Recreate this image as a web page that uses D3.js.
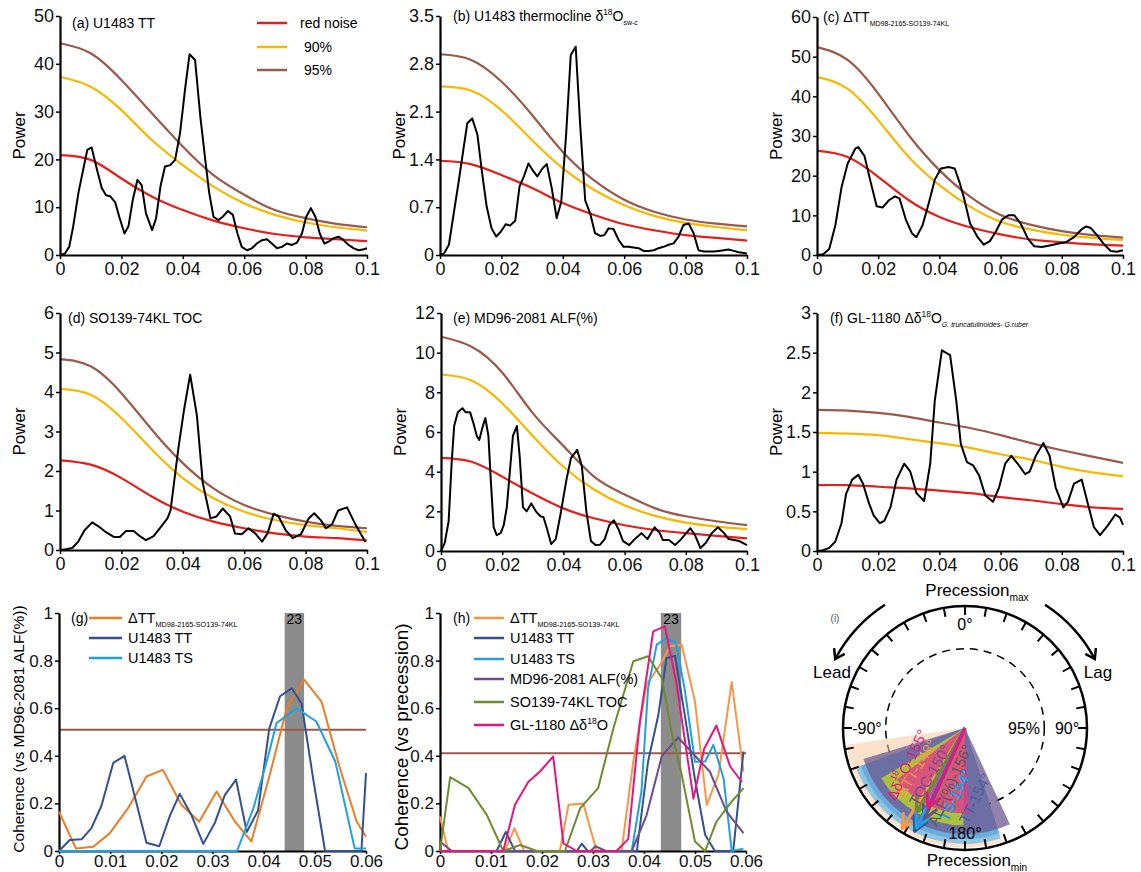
<!DOCTYPE html>
<html>
<head>
<meta charset="utf-8">
<script src="https://cdn.jsdelivr.net/npm/d3@7"></script>
<style>
  body { margin: 0; background: #fff; }
  svg { font-family: "Liberation Sans", Arial, sans-serif; }
</style>
</head>
<body>
<svg id="chart" width="1141" height="872"></svg>
<script>
// ---- data ----
const powerXTicks = [0, 0.02, 0.04, 0.06, 0.08, 0.1];
const cohXTicks = [0, 0.01, 0.02, 0.03, 0.04, 0.05, 0.06];
const cohYTicks = [0, 0.2, 0.4, 0.6, 0.8, 1];
const noiseFreq = [0, 0.01, 0.02, 0.03, 0.04, 0.05, 0.06, 0.07, 0.08, 0.09, 0.1];

// (a) U1483 TT
const specA = [[0,0],[0.0016,0.3],[0.003,1.7],[0.0043,6],[0.006,13],[0.0076,18],[0.0089,22],[0.0103,22.5],[0.012,18],[0.0136,14],[0.015,12.5],[0.0163,12.3],[0.018,11],[0.0193,8],[0.021,4.5],[0.0223,6],[0.0237,11.5],[0.0252,15.7],[0.0266,14.6],[0.028,8.7],[0.030,5.2],[0.0313,7.7],[0.0328,14.6],[0.0342,18.5],[0.0359,18.8],[0.0375,19.9],[0.0391,25.5],[0.0408,35],[0.0422,42],[0.044,40.8],[0.0457,29],[0.0473,20],[0.0486,13],[0.05,8],[0.0516,7.3],[0.053,8],[0.0547,9.2],[0.0563,8.4],[0.0578,4.5],[0.0592,1.7],[0.0609,1],[0.0625,1.4],[0.0641,2.4],[0.0658,3.1],[0.0674,3.3],[0.069,2.4],[0.0707,1.4],[0.0723,1.7],[0.0739,2.4],[0.0755,2.1],[0.0772,2.6],[0.0788,4.5],[0.0802,8],[0.0817,9.8],[0.0832,8],[0.0846,4.5],[0.0861,2.4],[0.0875,2.8],[0.0891,3.5],[0.0908,3.8],[0.0924,3.1],[0.094,2.1],[0.0957,1.4],[0.0973,1],[0.099,1.2],[0.1,1.4]];
const redA = [20.9,19.9,16.0,12.2,9.4,7.2,5.6,4.4,3.7,3.3,2.9];
const c90A = [37.3,35.2,30.3,24.0,18.8,14.3,10.8,8.4,6.8,5.8,5.1];
const c95A = [44.3,42.2,36.6,29.6,22.7,16.7,12.6,9.4,7.7,6.5,5.8];

// (b) U1483 thermocline d18Osw-c
const specB = [[0,0],[0.0013,0.02],[0.0029,0.15],[0.0043,0.56],[0.006,1.05],[0.0076,1.54],[0.0089,1.93],[0.0105,2.0],[0.0122,1.76],[0.0136,1.24],[0.0152,0.71],[0.0168,0.39],[0.0183,0.27],[0.0198,0.34],[0.0214,0.45],[0.0228,0.43],[0.0245,0.5],[0.0259,1.0],[0.0274,1.16],[0.0288,1.34],[0.0302,1.24],[0.0317,1.15],[0.0334,1.27],[0.0348,1.33],[0.0364,0.98],[0.038,0.54],[0.0395,0.78],[0.0411,1.78],[0.0426,2.93],[0.0442,3.05],[0.0457,1.88],[0.0473,0.8],[0.0489,0.61],[0.0505,0.32],[0.0522,0.28],[0.0535,0.29],[0.0549,0.39],[0.0565,0.38],[0.0582,0.22],[0.0598,0.12],[0.0614,0.12],[0.063,0.11],[0.0647,0.1],[0.0663,0.06],[0.0679,0.06],[0.0696,0.07],[0.0712,0.1],[0.0728,0.12],[0.0745,0.15],[0.0761,0.17],[0.0777,0.27],[0.0793,0.44],[0.081,0.46],[0.0826,0.32],[0.0842,0.07],[0.0859,0.05],[0.0875,0.05],[0.0891,0.05],[0.0908,0.06],[0.0924,0.07],[0.094,0.08],[0.0957,0.06],[0.0973,0.04],[0.099,0.03],[0.1,0.02]];
const redB = [1.38,1.33,1.17,0.98,0.76,0.59,0.45,0.36,0.29,0.25,0.21];
const c90B = [2.47,2.41,2.12,1.68,1.27,0.96,0.73,0.57,0.47,0.41,0.36];
const c95B = [2.94,2.86,2.54,2.05,1.51,1.10,0.81,0.63,0.52,0.46,0.42];

// (c) dTT MD98-2165 - SO139-74KL
const specC = [[0,0],[0.002,0.2],[0.004,1.5],[0.006,7.5],[0.008,17],[0.010,23],[0.0125,26.8],[0.0135,27.2],[0.0155,25],[0.0175,18.5],[0.0195,12.3],[0.0215,12],[0.0235,13.8],[0.0255,14.8],[0.027,14.2],[0.029,9],[0.031,5.5],[0.0325,4.5],[0.0345,7.5],[0.0365,13],[0.0385,19],[0.0405,21.8],[0.043,22.2],[0.045,21.8],[0.0465,18.5],[0.048,14.5],[0.050,8],[0.0525,4.5],[0.0545,2.6],[0.0565,3.5],[0.0585,6],[0.0605,9],[0.0625,10],[0.0645,10],[0.0665,8],[0.069,4],[0.071,2.2],[0.0735,2],[0.076,2.4],[0.079,2.9],[0.0815,3.3],[0.084,4.5],[0.0865,6.5],[0.088,7.2],[0.0895,6.8],[0.0915,5],[0.094,2.5],[0.096,1],[0.098,0.8],[0.1,1.2]];
const redC = [26.3,24.7,19.7,13.8,9.6,7.0,5.2,3.9,3.2,2.7,2.35];
const c90C = [44.9,41.9,34.0,24.7,17.6,12.2,8.4,6.4,5.1,4.3,3.8];
const c95C = [52.4,49.2,40.7,30.2,21.4,14.7,10.1,7.6,6.0,5.0,4.4];

// (d) SO139-74KL TOC
const specD = [[0,0],[0.002,0.02],[0.004,0.05],[0.006,0.22],[0.008,0.5],[0.0105,0.7],[0.0125,0.6],[0.015,0.45],[0.0175,0.33],[0.0195,0.33],[0.0215,0.48],[0.024,0.48],[0.026,0.35],[0.028,0.25],[0.0305,0.35],[0.033,0.6],[0.035,0.8],[0.036,1.0],[0.0386,2.6],[0.0404,3.55],[0.0424,4.44],[0.0446,3.4],[0.0465,1.7],[0.049,0.8],[0.051,0.85],[0.053,1.05],[0.0554,0.85],[0.057,0.42],[0.0592,0.4],[0.0614,0.55],[0.0636,0.42],[0.0658,0.21],[0.0676,0.42],[0.0696,0.92],[0.0712,0.85],[0.0735,0.5],[0.0758,0.3],[0.0785,0.4],[0.081,0.8],[0.0828,0.93],[0.085,0.75],[0.0866,0.55],[0.0886,0.65],[0.0906,1.0],[0.0935,1.08],[0.0962,0.65],[0.0995,0.2]];
const redD = [2.27,2.16,1.82,1.35,0.97,0.72,0.55,0.42,0.34,0.30,0.24];
const c90D = [4.08,3.93,3.34,2.54,1.82,1.31,0.97,0.76,0.63,0.55,0.46];
const c95D = [4.83,4.65,3.97,3.04,2.20,1.56,1.14,0.89,0.72,0.61,0.55];

// (e) MD96-2081 ALF(%)
const specE = [[0,0],[0.0012,0.4],[0.0025,1.5],[0.0035,4.5],[0.0043,6.3],[0.0055,7.0],[0.007,7.2],[0.008,7.0],[0.0095,7.0],[0.0105,6.5],[0.0117,5.8],[0.0125,5.6],[0.0135,6.2],[0.0145,6.7],[0.0155,5.8],[0.0163,3.5],[0.0172,1.2],[0.0182,0.8],[0.0195,0.9],[0.0205,1.3],[0.0215,2.2],[0.0225,4.0],[0.0235,5.8],[0.0248,6.3],[0.0257,4.8],[0.0268,2.2],[0.028,2.0],[0.0295,2.4],[0.031,2.0],[0.0325,1.75],[0.0335,1.7],[0.0345,1.2],[0.036,0.35],[0.0375,0.6],[0.039,1.8],[0.041,3.6],[0.0425,4.7],[0.0445,5.1],[0.046,4.3],[0.0475,2.0],[0.049,0.5],[0.0505,0.3],[0.052,0.32],[0.0535,0.6],[0.055,1.3],[0.0565,1.55],[0.058,1.1],[0.0595,0.5],[0.0615,0.3],[0.063,0.55],[0.0655,0.9],[0.0675,0.6],[0.0698,1.2],[0.0715,0.9],[0.0725,0.55],[0.0745,0.55],[0.0765,0.3],[0.0785,0.6],[0.0815,1.15],[0.083,0.8],[0.0848,0.15],[0.0865,0.4],[0.0885,0.9],[0.0905,1.2],[0.0925,0.9],[0.094,0.6],[0.0975,0.5],[0.1,0.3]];
const redE = [4.7,4.5,3.75,2.9,2.15,1.65,1.3,1.06,0.9,0.76,0.64];
const c90E = [8.9,8.6,7.45,5.8,4.25,3.1,2.3,1.77,1.43,1.23,1.1];
const c95E = [10.8,10.3,9.0,6.95,5.3,3.75,2.85,2.15,1.75,1.5,1.3];

// (f) GL-1180 dd18O
const specF = [[0,0],[0.002,0.01],[0.004,0.04],[0.006,0.12],[0.008,0.35],[0.0095,0.72],[0.0115,0.9],[0.0135,0.96],[0.015,0.85],[0.017,0.6],[0.0185,0.45],[0.0205,0.35],[0.022,0.38],[0.024,0.55],[0.026,0.9],[0.0285,1.1],[0.0305,1.0],[0.0325,0.73],[0.035,0.63],[0.037,1.1],[0.0385,1.9],[0.0408,2.53],[0.0435,2.47],[0.0455,1.9],[0.047,1.35],[0.049,1.12],[0.051,1.08],[0.053,0.95],[0.055,0.7],[0.0575,0.62],[0.0595,0.8],[0.0615,1.1],[0.0635,1.2],[0.066,1.08],[0.068,0.97],[0.0695,1.0],[0.0715,1.2],[0.074,1.36],[0.076,1.2],[0.078,0.8],[0.0805,0.55],[0.082,0.62],[0.084,0.85],[0.0865,0.9],[0.0885,0.6],[0.0905,0.3],[0.0925,0.2],[0.095,0.32],[0.0975,0.46],[0.099,0.42],[0.1,0.33]];
const redF = [0.83,0.83,0.81,0.79,0.76,0.73,0.68,0.64,0.59,0.55,0.53];
const c90F = [1.49,1.48,1.46,1.41,1.36,1.30,1.22,1.15,1.06,0.99,0.94];
const c95F = [1.78,1.77,1.74,1.69,1.62,1.55,1.46,1.36,1.27,1.19,1.11];

// (g) coherence vs MD96-2081 ALF(%)
const cohG_dTT = [[0,0.165],[0.0033,0.011],[0.0067,0.018],[0.0099,0.074],[0.0135,0.18],[0.0171,0.313],[0.0203,0.341],[0.0239,0.194],[0.0274,0.123],[0.0308,0.25],[0.0344,0.123],[0.0376,0.04],[0.0412,0.32],[0.0445,0.6],[0.0479,0.72],[0.0513,0.628],[0.0549,0.348],[0.0582,0.123],[0.06,0.06]];
const cohG_TT = [[0,0],[0.0021,0.046],[0.0044,0.049],[0.0063,0.095],[0.0083,0.19],[0.0106,0.37],[0.0128,0.4],[0.0171,0.035],[0.0196,0.02],[0.0217,0.15],[0.0236,0.24],[0.0259,0.15],[0.0282,0.03],[0.0305,0.12],[0.0324,0.235],[0.0346,0.3],[0.0367,0.08],[0.0389,0.17],[0.0411,0.515],[0.0432,0.65],[0.0455,0.684],[0.0474,0.62],[0.0497,0.3],[0.052,0],[0.0591,0],[0.06,0.327]];
const cohG_TS = [[0,0],[0.0348,0],[0.038,0.18],[0.0409,0.4],[0.0425,0.537],[0.0464,0.6],[0.0503,0.544],[0.054,0.376],[0.0578,0.01],[0.06,0.01]];
const bandG = [0.0441, 0.0479];
const sigG = 0.509;

// (h) coherence vs precession
const cohH_dTT = [[0,0.145],[0.0016,0],[0.0127,0],[0.0146,0.095],[0.0165,0],[0.0235,0],[0.0252,0.194],[0.0281,0.2],[0.0307,0],[0.0356,0],[0.0379,0.376],[0.0405,0.7],[0.0431,0.78],[0.0451,0.86],[0.0474,0.867],[0.05,0.628],[0.0523,0.194],[0.0546,0.32],[0.0572,0.71],[0.0595,0.334]];
const cohH_TT = [[0,0],[0.0111,0],[0.0129,0.08],[0.0147,0],[0.0268,0],[0.0278,0.03],[0.029,0],[0.0386,0],[0.0408,0.376],[0.0428,0.57],[0.0444,0.81],[0.0461,0.82],[0.048,0.57],[0.05,0.3],[0.052,0.067],[0.0539,0],[0.0575,0],[0.0595,0.418]];
const cohH_TS = [[0,0],[0.0376,0],[0.0395,0.25],[0.0408,0.684],[0.0425,0.867],[0.0444,0.895],[0.0463,0.874],[0.048,0.677],[0.05,0.375],[0.052,0.376],[0.0536,0.446],[0.0556,0.306],[0.0572,0],[0.0595,0.01]];
const cohH_ALF = [[0,0.04],[0.0023,0],[0.0295,0],[0.0305,0.02],[0.0325,0],[0.0376,0],[0.0405,0.15],[0.0435,0.4],[0.0467,0.477],[0.05,0.4],[0.0529,0.334],[0.0562,0.165],[0.0595,0.075]];
const cohH_TOC = [[0,0],[0.002,0.31],[0.0056,0.264],[0.0092,0.151],[0.0124,0],[0.0157,0.025],[0.019,0],[0.0245,0],[0.0275,0.18],[0.031,0.264],[0.034,0.516],[0.0379,0.797],[0.0408,0.818],[0.0435,0.726],[0.0454,0.5],[0.0474,0.32],[0.05,0.04],[0.052,0],[0.0542,0.123],[0.0569,0.2],[0.0595,0.264]];
const cohH_GL = [[0,0],[0.0124,0],[0.0147,0.194],[0.0173,0.29],[0.0196,0.334],[0.0222,0.397],[0.0242,0.032],[0.0268,0],[0.0346,0],[0.0369,0.05],[0.0392,0.545],[0.0418,0.923],[0.0441,0.944],[0.0464,0.7],[0.0497,0.22],[0.0518,0.43],[0.0542,0.527],[0.0569,0.355],[0.0592,0.29]];
const bandH = [0.0433, 0.0473];
const sigH = 0.411;

// (i) phase wheel, order: dTT, TT, TS, ALF, TOC, dd18O
const phaseNames = ['ΔTT', 'TT', 'TS', 'ALF(%)', 'TOC', 'Δδ18O'];
const phaseDeg = [-148, -154, -154, -156, -150, -155];
const phaseErr = [50, 44, 44, 49, 29, 28];
const phaseWedge = [0.98, 0.95, 0.91, 0.87, 0.8, 0.7];   // relative radius
const phaseArrow = [0.97, 0.94, 0.91, 0.82, 0.8, 0.72];
const sig95 = 0.65;

// ---- styles ----
const RED = '#e3201b', GOLD = '#f7b800', BROWN = '#9a5a4b';
const C_ORG_G = '#ec7d22', C_ORG = '#f79646', C_TT = '#33508f', C_TS = '#1fa0e0',
      C_ALF = '#6b4d8c', C_TOC = '#6f8a30', C_GL = '#e5177e';
const fmt = d3.format('~g');

const svg = d3.select('#chart');

function rich(text, segs, size) {
  let off = 0;
  segs.forEach(s => {
    const target = s.sup ? -0.42 * size : s.sub ? 0.28 * size : 0;
    const ts = text.append('tspan').text(s.t).attr('dy', target - off);
    if (s.sup || s.sub) ts.attr('font-size', (s.fs || 0.6) * size);
    if (s.italic) ts.attr('font-style', 'italic');
    off = target;
  });
}

function styleAxis(ax, fs) {
  ax.select('.domain').attr('stroke-width', 2.2);
  ax.selectAll('.tick line').attr('stroke-width', 1.5);
  ax.selectAll('.tick text').attr('font-size', fs).attr('fill', '#111');
  ax.attr('font-family', null);
}

function drawPower(p) {
  const g = svg.append('g').attr('transform', `translate(${p.left},${p.top})`);
  const x = d3.scaleLinear([0, 0.1], [0, p.w]);
  const y = d3.scaleLinear([0, p.yMax], [p.h, 0]);
  const smooth = d3.line().x((d, i) => x(noiseFreq[i])).y(d => y(d)).curve(d3.curveNatural);
  const raw = d3.line().x(d => x(d[0])).y(d => y(d[1]));

  [[p.red, RED], [p.c90, GOLD], [p.c95, BROWN]].forEach(([arr, col]) => {
    g.append('path').attr('d', smooth(arr)).attr('fill', 'none')
      .attr('stroke', col).attr('stroke-width', 2.2);
  });
  g.append('path').attr('d', raw(p.spec)).attr('fill', 'none')
    .attr('stroke', '#000').attr('stroke-width', 2).attr('stroke-linejoin', 'round');

  const ax = g.append('g').attr('transform', `translate(0,${p.h})`)
    .call(d3.axisBottom(x).tickValues(powerXTicks).tickFormat(fmt).tickSizeInner(4).tickSizeOuter(0).tickPadding(3));
  styleAxis(ax, 18);
  const ay = g.append('g')
    .call(d3.axisLeft(y).tickValues(p.yTicks).tickFormat(fmt).tickSizeInner(4).tickSizeOuter(0).tickPadding(2));
  styleAxis(ay, 18);

  g.append('text').attr('transform', `translate(-41,${p.h / 2}) rotate(-90)`)
    .attr('text-anchor', 'middle').attr('dominant-baseline', 'central')
    .attr('font-size', 17).text('Power');

  const t = g.append('text').attr('x', p.tx).attr('y', p.ty).attr('font-size', 14);
  rich(t, p.title, 14);
}

const powerPanels = [
  { left: 60, top: 16, w: 307, h: 239, yMax: 50, yTicks: [0,10,20,30,40,50], spec: specA, red: redA, c90: c90A, c95: c95A,
    tx: 12, ty: 12, title: [{ t: '(a) U1483 TT' }] },
  { left: 440, top: 16, w: 307, h: 239, yMax: 3.5, yTicks: [0,0.7,1.4,2.1,2.8,3.5], spec: specB, red: redB, c90: c90B, c95: c95B,
    tx: 13, ty: 5, title: [{ t: '(b) U1483 thermocline δ' }, { t: '18', sup: true }, { t: 'O' }, { t: 'sw-c', sub: true, fs: 0.5 }] },
  { left: 817, top: 17, w: 306, h: 238, yMax: 60, yTicks: [0,10,20,30,40,50,60], spec: specC, red: redC, c90: c90C, c95: c95C,
    tx: 6, ty: 5, title: [{ t: '(c) ΔTT' }, { t: 'MD98-2165-SO139-74KL', sub: true, fs: 0.5 }] },
  { left: 60, top: 313, w: 307, h: 237, yMax: 6, yTicks: [0,1,2,3,4,5,6], spec: specD, red: redD, c90: c90D, c95: c95D,
    tx: 8, ty: 10, title: [{ t: '(d) SO139-74KL TOC' }] },
  { left: 441, top: 313, w: 306, h: 238, yMax: 12, yTicks: [0,2,4,6,8,10,12], spec: specE, red: redE, c90: c90E, c95: c95E,
    tx: 12, ty: 10, title: [{ t: '(e) MD96-2081 ALF(%)' }] },
  { left: 817, top: 313, w: 306, h: 238, yMax: 3, yTicks: [0,0.5,1,1.5,2,2.5,3], spec: specF, red: redF, c90: c90F, c95: c95F,
    tx: 13, ty: 10, title: [{ t: '(f) GL-1180 Δδ' }, { t: '18', sup: true }, { t: 'O' }, { t: 'G. truncatulinoides- G.ruber', sub: true, fs: 0.5, italic: true }] }
];
powerPanels.forEach(drawPower);

// legend of panel (a)
const legA = svg.append('g');
[['red noise', RED, 23], [' 90%', GOLD, 47], [' 95%', BROWN, 70]].forEach(([lab, col, yy]) => {
  legA.append('line').attr('x1', 257).attr('x2', 287).attr('y1', yy).attr('y2', yy)
    .attr('stroke', col).attr('stroke-width', 2.5);
  legA.append('text').attr('x', 300).attr('y', yy + 5).attr('font-size', 14).attr('xml:space', 'preserve').text(lab);
});

// ---- coherence panels ----
function drawCoh(p) {
  const g = svg.append('g').attr('transform', `translate(${p.left},${p.top})`);
  const x = d3.scaleLinear([0, 0.06], [0, p.w]);
  const y = d3.scaleLinear([0, 1], [p.h, 0]);
  const raw = d3.line().x(d => x(d[0])).y(d => y(d[1]));

  g.append('rect').attr('x', x(p.band[0])).attr('width', x(p.band[1]) - x(p.band[0]))
    .attr('y', y(1)).attr('height', y(0) - y(1)).attr('fill', '#8c8c8c');
  g.append('text').attr('x', x((p.band[0] + p.band[1]) / 2)).attr('y', y(1) + 11)
    .attr('text-anchor', 'middle').attr('font-size', 14).text('23');

  g.append('line').attr('x1', 0).attr('x2', p.w).attr('y1', y(p.sig)).attr('y2', y(p.sig))
    .attr('stroke', BROWN).attr('stroke-width', 2);

  const ax = g.append('g').attr('transform', `translate(0,${p.h})`)
    .call(d3.axisBottom(x).tickValues(cohXTicks).tickFormat(fmt).tickSizeInner(3).tickSizeOuter(0).tickPadding(1));
  styleAxis(ax, 17);
  const ay = g.append('g')
    .call(d3.axisLeft(y).tickValues(cohYTicks).tickFormat(fmt).tickSizeInner(4).tickSizeOuter(0).tickPadding(2));
  styleAxis(ay, 17);

  p.series.forEach(s => {
    g.append('path').attr('d', raw(s.data)).attr('fill', 'none')
      .attr('stroke', s.color).attr('stroke-width', 2).attr('stroke-linejoin', 'round');
  });

  g.append('text').attr('transform', `translate(${p.ylx},${p.yly}) rotate(-90)`)
    .attr('text-anchor', 'middle').attr('dominant-baseline', 'central')
    .attr('font-size', p.ylfs).text(p.ylabel);

  // legend
  g.append('text').attr('x', p.legTag[0]).attr('y', p.legRows[0] + 5).attr('font-size', 14).text(p.tag);
  p.series.forEach((s, i) => {
    const yy = p.legRows[i];
    g.append('line').attr('x1', p.legLine[0]).attr('x2', p.legLine[1]).attr('y1', yy).attr('y2', yy)
      .attr('stroke', s.color).attr('stroke-width', 2.5);
    const t = g.append('text').attr('x', p.legLine[1] + 6).attr('y', yy + 5).attr('font-size', 14.5);
    rich(t, s.label, 14.5);
  });
}

const labDTT = [{ t: 'ΔTT' }, { t: 'MD98-2165-SO139-74KL', sub: true, fs: 0.5 }];
drawCoh({
  left: 59, top: 613, w: 307, h: 238, band: bandG, sig: sigG, tag: '(g)',
  ylabel: 'Coherence (vs MD96-2081 ALF(%))', ylx: -41, yly: 116, ylfs: 15.5,
  legTag: [12], legLine: [30, 63], legRows: [5, 25, 45],
  series: [
    { data: cohG_dTT, color: C_ORG_G, label: labDTT },
    { data: cohG_TT, color: C_TT, label: [{ t: 'U1483 TT' }] },
    { data: cohG_TS, color: C_TS, label: [{ t: 'U1483 TS' }] }
  ]
});
drawCoh({
  left: 440, top: 613, w: 306, h: 238, band: bandH, sig: sigH, tag: '(h)',
  ylabel: 'Coherence (vs precession)', ylx: -39, yly: 124, ylfs: 19,
  legTag: [13], legLine: [34, 64], legRows: [5, 25, 46, 66, 89, 112],
  series: [
    { data: cohH_dTT, color: C_ORG, label: labDTT },
    { data: cohH_TT, color: C_TT, label: [{ t: 'U1483 TT' }] },
    { data: cohH_TS, color: C_TS, label: [{ t: 'U1483 TS' }] },
    { data: cohH_ALF, color: C_ALF, label: [{ t: 'MD96-2081 ALF(%)' }] },
    { data: cohH_TOC, color: C_TOC, label: [{ t: 'SO139-74KL TOC' }] },
    { data: cohH_GL, color: C_GL, label: [{ t: 'GL-1180 Δδ' }, { t: '18', sup: true }, { t: 'O' }] }
  ]
});

// ---- (i) phase wheel ----
const cx = 965, cy = 728, R = 122;
const rs = d3.scaleLinear([0, 1], [0, R]);
const rad = d => d * Math.PI / 180;
const polar = (deg, r) => [Math.sin(rad(deg)) * r, -Math.cos(rad(deg)) * r];
const wheel = svg.append('g').attr('transform', `translate(${cx},${cy})`);

const wedgeFill = ['#f9c9a0', '#5fb9ea', '#4466aa', '#6d5a92', '#b9cf2c', '#e03a8a'];
const wedgeOp = [0.55, 0.7, 0.65, 0.75, 0.85, 0.8];
const wedgeOrder = [0, 2, 1, 3, 4, 5];
const arcGen = d3.arc().innerRadius(0);

wheel.append('circle').attr('r', rs(sig95)).attr('fill', 'none').attr('stroke', '#000')
  .attr('stroke-width', 1.5).attr('stroke-dasharray', '8,6');

wedgeOrder.forEach(i => {
  wheel.append('path')
    .attr('d', arcGen({ outerRadius: rs(phaseWedge[i]), startAngle: rad(phaseDeg[i] - phaseErr[i]), endAngle: rad(phaseDeg[i] + phaseErr[i]) }))
    .attr('fill', wedgeFill[i]).attr('fill-opacity', wedgeOp[i]);
});

// outer circle + ticks
wheel.append('circle').attr('r', R).attr('fill', 'none').attr('stroke', '#000').attr('stroke-width', 2.5);
d3.range(0, 360, 10).forEach(a => {
  const [x1, y1] = polar(a, R), [x2, y2] = polar(a, R - 9);
  wheel.append('line').attr('x1', x1).attr('y1', y1).attr('x2', x2).attr('y2', y2)
    .attr('stroke', '#000').attr('stroke-width', 2);
});

// arrows
const arrowCol = [C_ORG, C_TT, C_TS, C_ALF, C_TOC, C_GL];
[0, 4, 3, 1, 2, 5].forEach(i => {
  const len = rs(phaseArrow[i]);
  const [tx, ty] = polar(phaseDeg[i], len);
  wheel.append('line').attr('x1', 0).attr('y1', 0).attr('x2', tx).attr('y2', ty)
    .attr('stroke', arrowCol[i]).attr('stroke-width', 3);
  [-28, 28].forEach(da => {
    const [hx, hy] = polar(phaseDeg[i] + 180 + da, 15);
    wheel.append('line').attr('x1', tx).attr('y1', ty).attr('x2', tx + hx).attr('y2', ty + hy)
      .attr('stroke', arrowCol[i]).attr('stroke-width', 3).attr('stroke-linecap', 'round');
  });
});

// phase labels along arrows
const labDTheta = [19, -34, -17.5, -9, 7, 33];
const labR = [63, 71, 68, 59, 59, 69];
const labCol = [C_ORG, '#4a5f9c', C_TS, '#5a5a5a', '#7a4a9a', C_GL];
phaseNames.forEach((nm, i) => {
  const [lx, ly] = polar(phaseDeg[i] + labDTheta[i], labR[i]);
  const t = wheel.append('text')
    .attr('transform', `translate(${lx},${ly}) rotate(${phaseDeg[i] + 90})`)
    .attr('text-anchor', 'middle').attr('dominant-baseline', 'central')
    .attr('font-size', 15).attr('fill', labCol[i])
    .attr('font-weight', i === 2 ? 'bold' : null);
  const deg = `${phaseDeg[i]}°`;
  if (nm === 'Δδ18O') rich(t, [{ t: 'Δδ' }, { t: '18', sup: true }, { t: 'O' + deg }], 15);
  else t.text(nm + deg);
});

// angle labels
const angLab = [['0°', 0, 104], ['-90°', -90, 98], ['90°', 90, 102], ['180°', 180, 105], ['95%', 90, 59]];
angLab.forEach(([s, a, r]) => {
  const [x, y] = polar(a, r);
  wheel.append('text').attr('x', x).attr('y', y).attr('text-anchor', 'middle')
    .attr('dominant-baseline', 'central').attr('font-size', 16).text(s);
});

// lead / lag arcs
svg.append('defs').append('marker').attr('id', 'chev').attr('viewBox', '-10 -7 12 14')
  .attr('refX', 0).attr('refY', 0).attr('markerWidth', 12).attr('markerHeight', 14)
  .attr('markerUnits', 'userSpaceOnUse').attr('orient', 'auto')
  .append('path').attr('d', 'M-9,-6 L0,0 L-9,6').attr('fill', 'none').attr('stroke', '#000').attr('stroke-width', 2.5);
[[-33, -62, 0], [33, 62, 1]].forEach(([a0, a1, sweep]) => {
  const [x0, y0] = polar(a0, 147), [x1, y1] = polar(a1, 147);
  wheel.append('path').attr('d', `M${x0},${y0} A147,147 0 0 ${sweep} ${x1},${y1}`)
    .attr('fill', 'none').attr('stroke', '#000').attr('stroke-width', 2.5).attr('marker-end', 'url(#chev)');
});
svg.append('text').attr('x', 832).attr('y', 678).attr('text-anchor', 'middle').attr('font-size', 17).text('Lead');
svg.append('text').attr('x', 1098).attr('y', 678).attr('text-anchor', 'middle').attr('font-size', 17).text('Lag');
const pmax = svg.append('text').attr('x', 977).attr('y', 596).attr('text-anchor', 'middle').attr('font-size', 17);
rich(pmax, [{ t: 'Precession' }, { t: 'max', sub: true, fs: 0.6 }], 17);
const pmin = svg.append('text').attr('x', 977).attr('y', 866).attr('text-anchor', 'middle').attr('font-size', 17);
rich(pmin, [{ t: 'Precession' }, { t: 'min', sub: true, fs: 0.6 }], 17);
svg.append('text').attr('x', 835).attr('y', 622).attr('text-anchor', 'middle').attr('font-size', 10).attr('fill', '#555').text('(i)');
</script>
</body>
</html>
